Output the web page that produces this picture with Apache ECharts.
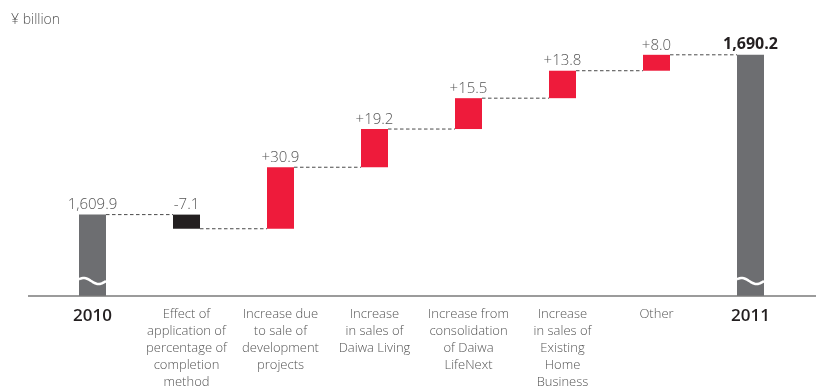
<!DOCTYPE html>
<html>
<head>
<meta charset="utf-8">
<script src="https://cdn.jsdelivr.net/npm/echarts@6/dist/echarts.min.js"></script>
<style>
  html, body { margin: 0; padding: 0; background: #fff; }
  #chart { width: 816px; height: 388px; }
</style>
</head>
<body>
<div id="chart"></div>
<script>
// Net sales bridge, ¥ billion
const categories = [
  '2010',
  'Effect of\napplication of\npercentage of\ncompletion\nmethod',
  'Increase due\nto sale of\ndevelopment\nprojects',
  'Increase\nin sales of\nDaiwa Living',
  'Increase from\nconsolidation\nof Daiwa\nLifeNext',
  'Increase\nin sales of\nExisting\nHome\nBusiness',
  'Other',
  '2011'
];
const startTotal = 1609.9;
const endTotal = 1690.2;
const changes = [-7.1, 30.9, 19.2, 15.5, 13.8, 8.0];
const valueLabels = ['1,609.9', '-7.1', '+30.9', '+19.2', '+15.5', '+13.8', '+8.0', '1,690.2'];

const FONT = '"Open Sans", "Noto Sans", sans-serif';
const GRAY = '#6d6e71';
const RED = '#ee1b3b';
const BLACK = '#231f20';
const BAR_W = 27;

// Running totals: bases for floating bars and levels for dashed connectors
const bases = [];
const deltas = [];
const levels = [startTotal];
let run = startTotal;
changes.forEach(c => {
  const next = +(run + c).toFixed(1);
  bases.push(Math.min(run, next));
  deltas.push(Math.abs(c));
  run = next;
  levels.push(run);
});

const baseData = ['-'].concat(bases, ['-']);
const totalData = [startTotal].concat(changes.map(() => '-'), [endTotal]);
const deltaData = ['-'].concat(changes.map((c, i) => ({
  value: deltas[i],
  itemStyle: { color: c < 0 ? BLACK : RED }
})), ['-']);

const labelStyle = {
  show: true,
  position: 'top',
  distance: 2,
  fontFamily: FONT,
  fontSize: 15,
  fontWeight: 300,
  color: '#555'
};

const chart = echarts.init(document.getElementById('chart'));
const yMin = 1569, yMax = 1700;
const titleText = {
  type: 'text', left: 11, top: 13,
  style: { text: '¥ billion', fontFamily: FONT, fontSize: 14, fontWeight: 300, fill: '#555' }
};

chart.setOption({
  animation: false,
  grid: { left: 45.5, right: 18.5, top: 35.3, bottom: 92, outerBoundsMode: 'none', containLabel: false },
  graphic: [titleText],
  xAxis: {
    type: 'category',
    data: categories,
    axisLine: { show: false },
    axisTick: { show: false },
    axisLabel: {
      interval: 0,
      margin: 10,
      fontFamily: FONT,
      fontSize: 13,
      fontWeight: 300,
      lineHeight: 17,
      color: '#555',
      verticalAlign: 'top',
      formatter: v => (v === '2010' || v === '2011') ? '{y|' + v + '}' : v,
      rich: {
        y: { fontFamily: FONT, fontSize: 17, fontWeight: 600, color: BLACK, lineHeight: 20 }
      }
    }
  },
  yAxis: {
    type: 'value', min: yMin, max: yMax,
    show: false, splitLine: { show: false }
  },
  series: [
    {
      name: 'base', type: 'bar', stack: 'w', barWidth: BAR_W,
      itemStyle: { color: 'transparent' }, silent: true,
      data: baseData
    },
    {
      name: 'total', type: 'bar', stack: 'w', barWidth: BAR_W,
      itemStyle: { color: GRAY },
      label: Object.assign({}, labelStyle, {
        formatter: p => valueLabels[p.dataIndex]
      }),
      data: totalData.map((v, i) => i === 7 ? {
        value: v,
        label: { fontWeight: 'bold', fontSize: 16, color: BLACK }
      } : v)
    },
    {
      name: 'change', type: 'bar', stack: 'w', barWidth: BAR_W,
      label: Object.assign({}, labelStyle, {
        formatter: p => valueLabels[p.dataIndex]
      }),
      data: deltaData
    },
    {
      // dashed connectors between consecutive bars
      name: 'connector', type: 'custom', silent: true, z: 1,
      data: levels.map((lv, i) => [i, lv]),
      renderItem: (params, api) => {
        const p = api.coord([api.value(0), api.value(1)]);
        const band = api.size([1, 0])[0];
        return {
          type: 'line',
          shape: { x1: p[0] + BAR_W / 2, y1: p[1], x2: p[0] + band - BAR_W / 2, y2: p[1] },
          style: { stroke: '#4a4a4a', lineWidth: 1, lineDash: [3.5, 2.5] }
        };
      }
    },
    {
      // axis break marks on the total bars
      name: 'break', type: 'custom', silent: true, z: 5,
      data: [[0, yMin], [7, yMin]],
      renderItem: (params, api) => {
        const p = api.coord([api.value(0), api.value(1)]);
        const cy = p[1] - 15;
        const pts = [];
        for (let k = 0; k <= 20; k++) {
          const t = k / 20;
          const x = p[0] - BAR_W / 2 + t * BAR_W;
          pts.push([x, cy - 3 * Math.sin(t * 2 * Math.PI * 0.9 + 0.6)]);
        }
        return {
          type: 'polyline',
          shape: { points: pts, smooth: 0.3 },
          style: { stroke: '#fff', lineWidth: 2.5, fill: null }
        };
      }
    }
  ]
});

// Baseline spanning the chart width
const axisY = chart.convertToPixel({ yAxisIndex: 0 }, yMin);
chart.setOption({
  graphic: [titleText, {
    type: 'line', z: 10,
    shape: { x1: 28, y1: axisY, x2: 816, y2: axisY },
    style: { stroke: '#7a7a7a', lineWidth: 1.5 }
  }]
});
</script>
</body>
</html>
